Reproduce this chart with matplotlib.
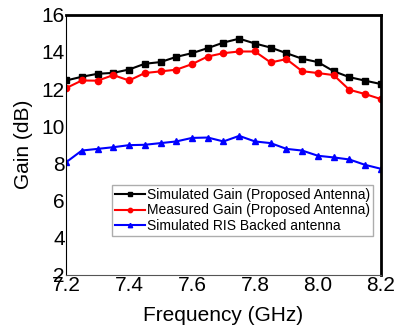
import numpy as np
import matplotlib.pyplot as plt

plt.rcParams['font.family'] = ['Liberation Sans', 'DejaVu Sans']

freq = [7.2, 7.25, 7.3, 7.35, 7.4, 7.45, 7.5, 7.55, 7.6, 7.65, 7.7,
        7.75, 7.8, 7.85, 7.9, 7.95, 8.0, 8.05, 8.1, 8.15, 8.2]
sim_gain = [12.46, 12.66, 12.82, 12.87, 13.05, 13.36, 13.45, 13.73, 13.93, 14.2, 14.5,
            14.71, 14.45, 14.23, 13.93, 13.63, 13.45, 12.96, 12.64, 12.45, 12.27]
meas_gain = [12.05, 12.46, 12.45, 12.75, 12.46, 12.86, 12.95, 13.04, 13.34, 13.75, 13.93,
             14.02, 14.02, 13.43, 13.61, 12.96, 12.86, 12.75, 11.96, 11.73, 11.46]
ris_gain = [8.06, 8.69, 8.78, 8.87, 8.98, 9.0, 9.09, 9.18, 9.37, 9.39, 9.18,
            9.48, 9.18, 9.09, 8.78, 8.69, 8.41, 8.32, 8.21, 7.92, 7.71]

fig = plt.figure(figsize=(4.03, 3.34), dpi=100)
ax = fig.add_axes([0.164, 0.177, 0.781, 0.779])

ax.plot(freq, sim_gain, color='black', marker='s', markersize=4, lw=1.5,
        label='Simulated Gain (Proposed Antenna)')
ax.plot(freq, meas_gain, color='red', marker='o', markersize=4.5, lw=1.5,
        label='Measured Gain (Proposed Antenna)')
ax.plot(freq, ris_gain, color='blue', marker='^', markersize=4.5, lw=1.5,
        label='Simulated RIS Backed antenna')

ax.set_xlim(7.2, 8.2)
ax.set_ylim(2, 16)
ax.set_xticks([7.2, 7.4, 7.6, 7.8, 8.0, 8.2])
ax.set_yticks([2, 4, 6, 8, 10, 12, 14, 16])
ax.tick_params(length=0, labelsize=15, pad=1)
ax.set_xlabel('Frequency (GHz)', fontsize=15, labelpad=8)
ax.set_ylabel('Gain (dB)', fontsize=15, labelpad=6)

ax.spines['top'].set_linewidth(2)
ax.spines['right'].set_linewidth(2)
ax.spines['left'].set_linewidth(0.8)
ax.spines['bottom'].set_linewidth(0.8)
ax.spines['bottom'].set_color('#555555')

leg = ax.legend(loc='lower left', bbox_to_anchor=(0.145, 0.15), fontsize=10,
                frameon=True, fancybox=False, edgecolor='#999999',
                borderpad=0.2, labelspacing=0.12, handlelength=2.2,
                handletextpad=0.15, borderaxespad=0, markerscale=0.7)
leg.get_frame().set_linewidth(1)

fig.savefig('out.png', dpi=100)
